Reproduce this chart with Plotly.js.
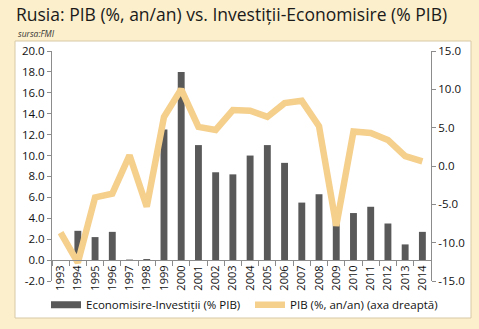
<!DOCTYPE html>
<html><head><meta charset="utf-8">
<script src="https://cdn.plot.ly/plotly-3.0.1.min.js"></script>
<style>html,body{margin:0;padding:0;background:#FCEFCB;}</style>
</head><body>
<div id="chart" style="width:479px;height:329px;"></div>
<script>
const years = ['1993','1994','1995','1996','1997','1998','1999','2000','2001','2002','2003','2004','2005','2006','2007','2008','2009','2010','2011','2012','2013','2014'];
const economisireInvestitii = [0, 2.8, 2.2, 2.7, 0.05, 0.1, 12.5, 18.0, 11.0, 8.4, 8.2, 10.0, 11.0, 9.3, 5.5, 6.3, 4.0, 4.5, 5.1, 3.5, 1.5, 2.7];
const pib = [-8.7, -12.6, -4.1, -3.6, 1.4, -5.3, 6.4, 10.0, 5.1, 4.7, 7.3, 7.2, 6.4, 8.2, 8.5, 5.2, -7.8, 4.5, 4.3, 3.4, 1.3, 0.6];
const leftTicks = [-2, 0, 2, 4, 6, 8, 10, 12, 14, 16, 18, 20];
const rightTicks = [-15, -10, -5, 0, 5, 10, 15];

const FONT = 'Open Sans, DejaVu Sans, sans-serif';
const barColor = '#595959';
const lineColor = '#F5CF8C';

const traces = [
  {type:'bar', x: years, y: economisireInvestitii, name:'Economisire-Investiții (% PIB)',
   marker:{color:barColor}, width:0.4, showlegend:false, yaxis:'y', xaxis:'x'},
  {type:'scatter', mode:'lines', x:[years[0]], y:[null], name:'Economisire-Investiții (% PIB)',
   line:{color:barColor, width:7}, yaxis:'y', xaxis:'x', hoverinfo:'skip', legend:'legend'},
  {type:'scatter', mode:'lines', x: years, y: pib, name:'PIB (%, an/an) (axa dreaptă)',
   line:{color:lineColor, width:6.5}, yaxis:'y2', xaxis:'x', legend:'legend2'}
];

const legendBase = {orientation:'h', xanchor:'left', y:-0.04, yanchor:'top', bgcolor:'rgba(0,0,0,0)',
                    font:{size:11.5, family:FONT, color:'#111'}};

const layout = {
  width:479, height:329,
  paper_bgcolor:'#FCEFCB', plot_bgcolor:'#ffffff',
  margin:{l:52, r:48, t:51, b:48, autoexpand:false},
  font:{family:FONT, color:'#111111', size:11},
  showlegend:true,
  title:{text:'Rusia: PIB (%, an/an) vs. Investiții-Economisire (% PIB)', x:16/479, xanchor:'left',
         y:1-15/329, yanchor:'middle', font:{family:FONT, size:17.5, color:'#1a1a1a'}},
  xaxis:{type:'category', anchor:'free', position:2/22, showline:true, linecolor:'#8c8c8c', linewidth:1,
         ticks:'outside', tickson:'boundaries', ticklen:5, tickcolor:'#8c8c8c', tickangle:-90,
         tickfont:{size:11, family:FONT}, showgrid:false, zeroline:false, range:[-0.5,21.5], automargin:false},
  yaxis:{range:[-2,20], tickvals:leftTicks, ticktext:leftTicks.map(v=>v.toFixed(1)), automargin:false,
         showline:true, linecolor:'#8c8c8c', ticks:'outside', ticklen:4, tickcolor:'#8c8c8c',
         showgrid:false, zeroline:false, tickfont:{size:11.5, family:FONT}},
  yaxis2:{range:[-15,15], overlaying:'y', side:'right', tickvals:rightTicks, ticktext:rightTicks.map(v=>v.toFixed(1)),
         showline:true, linecolor:'#8c8c8c', ticks:'outside', ticklen:4, tickcolor:'#8c8c8c', automargin:false,
         showgrid:false, zeroline:false, tickfont:{size:11.5, family:FONT}},
  legend: Object.assign({}, legendBase, {x:(46-52)/379}),
  legend2: Object.assign({}, legendBase, {x:(250-52)/379}),
  shapes:[
    {type:'rect', xref:'paper', yref:'paper', x0:(15-52)/379, x1:(471-52)/379,
     y0:(281-318)/230, y1:(281-41)/230, fillcolor:'#ffffff', line:{color:'#D8C9A6', width:1}, layer:'below'}
  ],
  annotations:[
    {text:'<i>sursa:FMI</i>', xref:'paper', yref:'paper', x:(16-52)/379, y:(281-33)/230,
     xanchor:'left', yanchor:'middle', showarrow:false, font:{size:8.5, family:FONT, color:'#333'}}
  ]
};

Plotly.newPlot('chart', traces, layout, {displayModeBar:false, staticPlot:true});
</script>
</body></html>
